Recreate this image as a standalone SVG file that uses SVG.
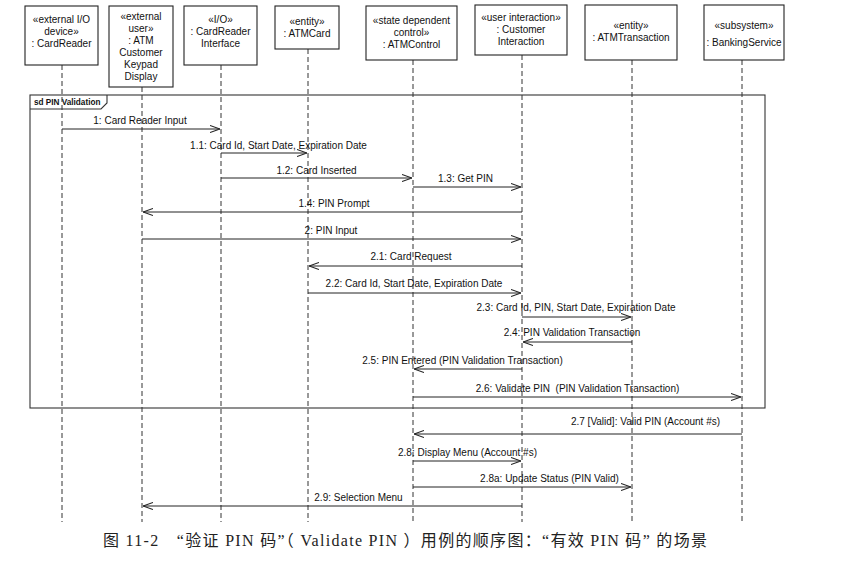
<svg xmlns="http://www.w3.org/2000/svg" width="848" height="567" viewBox="0 0 848 567">
<style>
.box{fill:#fff;stroke:#222;stroke-width:1.1}
.hd{font-family:"Liberation Sans",Arial,sans-serif;font-size:10px;fill:#111;text-anchor:middle}
.life{stroke:#333;stroke-width:1;stroke-dasharray:5 3;fill:none}
.msg{stroke:#222;stroke-width:1;fill:none;marker-end:url(#arr)}
.lbl{font-family:"Liberation Sans",Arial,sans-serif;font-size:10px;fill:#111;text-anchor:middle}
.frame{fill:none;stroke:#333;stroke-width:1.1}
.cap{font-family:"Liberation Serif","Noto Sans CJK SC",serif;font-size:16px;fill:#222}
</style>
<defs>
<marker id="arr" markerUnits="userSpaceOnUse" viewBox="0 0 10 8" refX="10" refY="4" markerWidth="10" markerHeight="8" orient="auto">
<path d="M0,0.5 L10,4 L0,7.5" fill="none" stroke="#222" stroke-width="1.1"/>
</marker>
</defs>
<rect width="848" height="567" fill="#fff"/>

<g id="frame">
<rect class="frame" x="30" y="95" width="735" height="313"/>
<path class="frame" d="M30,109 H101 L107,103 V95"/>
<text x="34" y="105" font-family="Liberation Sans,Arial,sans-serif" font-size="8.2" font-weight="bold" fill="#111">sd PIN Validation</text>
</g>

<g id="lifelines">
<line class="life" x1="62" y1="65" x2="62" y2="522"/>
<line class="life" x1="142" y1="87" x2="142" y2="522"/>
<line class="life" x1="221" y1="65" x2="221" y2="522"/>
<line class="life" x1="308" y1="49" x2="308" y2="522"/>
<line class="life" x1="413" y1="60" x2="413" y2="522"/>
<line class="life" x1="522" y1="55" x2="522" y2="522"/>
<line class="life" x1="632" y1="60" x2="632" y2="522"/>
<line class="life" x1="742" y1="60" x2="742" y2="522"/>
</g>

<g id="CardReader">
<rect class="box" x="25" y="6" width="73" height="59"/>
<text class="hd" x="61.5" y="23">«external I/O</text>
<text class="hd" x="61.5" y="35">device»</text>
<text class="hd" x="61.5" y="47">: CardReader</text>
</g>
<g id="Keypad">
<rect class="box" x="109" y="6" width="64" height="81"/>
<text class="hd" x="141" y="20">«external</text>
<text class="hd" x="141" y="32">user»</text>
<text class="hd" x="141" y="44">: ATM</text>
<text class="hd" x="141" y="56">Customer</text>
<text class="hd" x="141" y="68">Keypad</text>
<text class="hd" x="141" y="80">Display</text>
</g>
<g id="CardReaderInterface">
<rect class="box" x="184" y="6" width="73" height="59"/>
<text class="hd" x="220.5" y="23">«I/O»</text>
<text class="hd" x="220.5" y="35">: CardReader</text>
<text class="hd" x="220.5" y="47">Interface</text>
</g>
<g id="ATMCard">
<rect class="box" x="275" y="6" width="64" height="43"/>
<text class="hd" x="307" y="25">«entity»</text>
<text class="hd" x="307" y="37">: ATMCard</text>
</g>
<g id="ATMControl">
<rect class="box" x="366" y="6" width="91" height="54"/>
<text class="hd" x="411.5" y="24">«state dependent</text>
<text class="hd" x="411.5" y="36">control»</text>
<text class="hd" x="411.5" y="48">: ATMControl</text>
</g>
<g id="CustomerInteraction">
<rect class="box" x="475" y="5" width="92" height="50"/>
<text class="hd" x="521" y="21">«user interaction»</text>
<text class="hd" x="521" y="33">: Customer</text>
<text class="hd" x="521" y="45">Interaction</text>
</g>
<g id="ATMTransaction">
<rect class="box" x="585" y="5" width="92" height="55"/>
<text class="hd" x="631" y="29">«entity»</text>
<text class="hd" x="631" y="41">: ATMTransaction</text>
</g>
<g id="BankingService">
<rect class="box" x="704" y="5" width="80" height="55"/>
<text class="hd" x="744" y="29">«subsystem»</text>
<text class="hd" x="744" y="46">: BankingService</text>
</g>

<g id="connectors">
<line class="msg" x1="62" y1="129" x2="220" y2="129"/>
<text class="lbl" x="140" y="124">1: Card Reader Input</text>

<line class="msg" x1="221" y1="153" x2="307" y2="153"/>
<text class="lbl" x="278.5" y="149">1.1: Card Id, Start Date, Expiration Date</text>

<line class="msg" x1="221" y1="178" x2="412" y2="178"/>
<text class="lbl" x="316.5" y="174">1.2: Card Inserted</text>

<line class="msg" x1="413" y1="187" x2="521" y2="187"/>
<text class="lbl" x="465.5" y="182">1.3: Get PIN</text>

<line class="msg" x1="522" y1="212" x2="143" y2="212"/>
<text class="lbl" x="334" y="207">1.4: PIN Prompt</text>

<line class="msg" x1="142" y1="239" x2="521" y2="239"/>
<text class="lbl" x="331" y="234">2: PIN Input</text>

<line class="msg" x1="522" y1="266" x2="309" y2="266"/>
<text class="lbl" x="411" y="260">2.1: Card Request</text>

<line class="msg" x1="308" y1="293" x2="521" y2="293"/>
<text class="lbl" x="414" y="287">2.2: Card Id, Start Date, Expiration Date</text>

<line class="msg" x1="522" y1="317" x2="631" y2="317"/>
<text class="lbl" x="576" y="311">2.3: Card Id, PIN, Start Date, Expiration Date</text>

<line class="msg" x1="632" y1="342" x2="523" y2="342"/>
<text class="lbl" x="572" y="336">2.4: PIN Validation Transaction</text>

<line class="msg" x1="522" y1="369" x2="414" y2="369"/>
<text class="lbl" x="462.5" y="364">2.5: PIN Entered (PIN Validation Transaction)</text>

<line class="msg" x1="413" y1="397" x2="741" y2="397"/>
<text class="lbl" x="577.5" y="392">2.6: Validate PIN&#160; (PIN Validation Transaction)</text>

<line class="msg" x1="742" y1="434" x2="414" y2="434"/>
<text class="lbl" x="645.5" y="425">2.7 [Valid]: Valid PIN (Account #s)</text>

<line class="msg" x1="413" y1="461" x2="521" y2="461"/>
<text class="lbl" x="467.5" y="456">2.8: Display Menu (Account #s)</text>

<line class="msg" x1="413" y1="487" x2="631" y2="487"/>
<text class="lbl" x="549.5" y="482">2.8a: Update Status (PIN Valid)</text>

<line class="msg" x1="522" y1="506" x2="143" y2="506"/>
<text class="lbl" x="358.5" y="501">2.9: Selection Menu</text>
</g>

<text class="cap" x="103" y="546" textLength="604" lengthAdjust="spacing">图 11-2　“验证 PIN 码”（ Validate PIN ）用例的顺序图：“有效 PIN 码” 的场景</text>
</svg>
